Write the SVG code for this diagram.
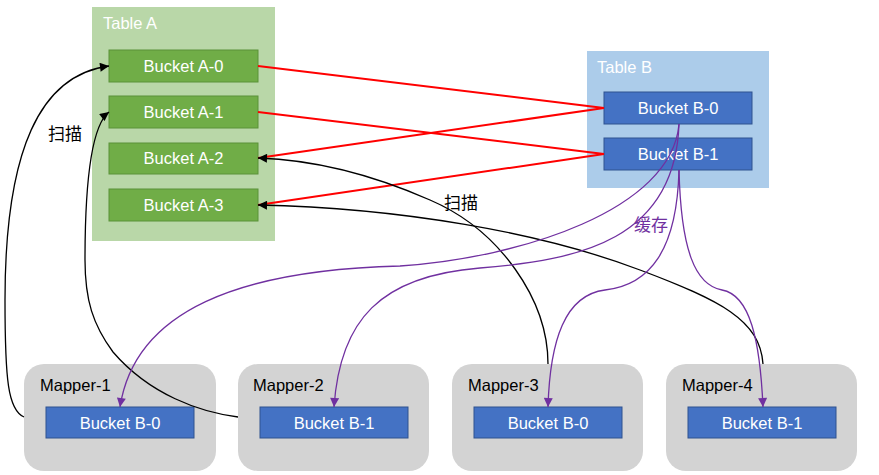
<svg xmlns="http://www.w3.org/2000/svg" width="879" height="475" viewBox="0 0 879 475">
<style>
.t{font-family:"Liberation Sans",Arial,sans-serif;font-size:16.5px}
.c{font-family:"Noto Sans CJK SC","Noto Sans CJK JP",sans-serif;font-size:17px}
.w{fill:#ffffff}
.k{fill:#000000}
.tbA{fill:#b9d7a8}
.tbB{fill:#acccea}
.bA{fill:#70ad47;stroke:#5b9239;stroke-width:1}
.bB{fill:#4472c4;stroke:#2f528f;stroke-width:1}
.map{fill:#d3d3d3}
.red{fill:none;stroke:#ff0000;stroke-width:2}
.blk{fill:none;stroke:#000000;stroke-width:1.3}
.pur{fill:none;stroke:#7030a0;stroke-width:1.3}
</style>
<defs>
<marker id="ak" viewBox="0 0 10 10" refX="10" refY="5" markerWidth="11" markerHeight="9" markerUnits="userSpaceOnUse" orient="auto"><path d="M0,0 L10,5 L0,10 z" fill="#000000"/></marker>
<marker id="ap" viewBox="0 0 10 10" refX="10" refY="5" markerWidth="11" markerHeight="9" markerUnits="userSpaceOnUse" orient="auto"><path d="M0,0 L10,5 L0,10 z" fill="#7030a0"/></marker>
</defs>
<rect width="879" height="475" fill="#ffffff"/>
<g id="tableA">
<rect class="tbA" x="92" y="7" width="183" height="234"/>
<text class="t w" x="103" y="29">Table A</text>
</g>
<g id="bucketA0"><rect class="bA" x="109" y="50" width="149" height="32"/><text class="t w" x="183.5" y="72" text-anchor="middle">Bucket A-0</text></g>
<g id="bucketA1"><rect class="bA" x="109" y="96" width="149" height="32"/><text class="t w" x="183.5" y="118" text-anchor="middle">Bucket A-1</text></g>
<g id="bucketA2"><rect class="bA" x="109" y="143" width="149" height="31"/><text class="t w" x="183.5" y="164" text-anchor="middle">Bucket A-2</text></g>
<g id="bucketA3"><rect class="bA" x="109" y="189" width="149" height="32"/><text class="t w" x="183.5" y="211" text-anchor="middle">Bucket A-3</text></g>
<g id="tableB">
<rect class="tbB" x="587" y="51" width="182" height="137"/>
<text class="t w" x="597" y="73">Table B</text>
</g>
<g id="bucketB0"><rect class="bB" x="604" y="92" width="148" height="32"/><text class="t w" x="678" y="114" text-anchor="middle">Bucket B-0</text></g>
<g id="bucketB1"><rect class="bB" x="604" y="138" width="148" height="32"/><text class="t w" x="678" y="160" text-anchor="middle">Bucket B-1</text></g>
<g id="mapper1">
<rect class="map" x="24" y="364" width="192" height="107" rx="20"/>
<text class="t k" x="40" y="391">Mapper-1</text>
<rect class="bB" x="46" y="407" width="148" height="31"/>
<text class="t w" x="120" y="429" text-anchor="middle">Bucket B-0</text>
</g>
<g id="mapper2">
<rect class="map" x="238" y="364" width="191" height="107" rx="20"/>
<text class="t k" x="253" y="391">Mapper-2</text>
<rect class="bB" x="260" y="407" width="148" height="31"/>
<text class="t w" x="334" y="429" text-anchor="middle">Bucket B-1</text>
</g>
<g id="mapper3">
<rect class="map" x="452" y="364" width="191" height="107" rx="20"/>
<text class="t k" x="468" y="391">Mapper-3</text>
<rect class="bB" x="474" y="407" width="148" height="31"/>
<text class="t w" x="548" y="429" text-anchor="middle">Bucket B-0</text>
</g>
<g id="mapper4">
<rect class="map" x="666" y="364" width="191" height="107" rx="20"/>
<text class="t k" x="682" y="391">Mapper-4</text>
<rect class="bB" x="688" y="407" width="148" height="31"/>
<text class="t w" x="762" y="429" text-anchor="middle">Bucket B-1</text>
</g>
<g id="connectors">
<path class="red" d="M258,66 L604,108"/>
<path class="red" d="M258,112 L604,154"/>
<path class="red" d="M604,108 L258,158"/>
<path class="red" d="M604,154 L258,205"/>
<path class="blk" marker-end="url(#ak)" d="M24,417 C8,410 5,380 5,300 C5,150 40,75 109,66"/>
<path class="blk" marker-end="url(#ak)" d="M238,417 C200,412 150,395 113,352 C93,325 85,300 85,260 C85,180 92,125 109,112"/>
<path class="blk" marker-end="url(#ak)" d="M548,364 C548,300 500,230 430,200 C380,178 320,160 258,158"/>
<path class="blk" marker-end="url(#ak)" d="M763,364 C760,320 720,300 640,270 C540,232 400,208 258,205"/>
<path class="pur" marker-end="url(#ap)" d="M679,124 C672,210 520,258 400,266 C240,270 135,310 120,407"/>
<path class="pur" marker-end="url(#ap)" d="M679,124 C675,240 580,260 480,268 C380,276 340,320 334,407"/>
<path class="pur" marker-end="url(#ap)" d="M679,170 C677,250 650,285 605,290 C565,295 550,340 548,407"/>
<path class="pur" marker-end="url(#ap)" d="M679,170 C681,250 695,285 722,290 C750,295 760,340 763,407"/>
<text class="c k" x="48" y="140">扫描</text>
<text class="c k" x="444" y="209">扫描</text>
<text class="c" x="634" y="231" fill="#7030a0">缓存</text>
</g>
</svg>
